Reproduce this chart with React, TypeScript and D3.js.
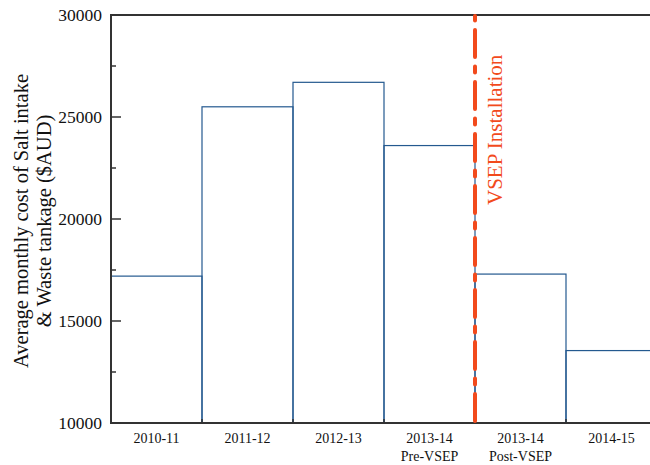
import React from "react";
import * as d3 from "d3";

const categories = ["2010-11", "2011-12", "2012-13", "2013-14\nPre-VSEP", "2013-14\nPost-VSEP", "2014-15"];
const values = [17200, 25500, 26700, 23600, 17300, 13550];
const yTicks = [10000, 15000, 20000, 25000, 30000];
const yMinorTicks = [12500, 17500, 22500, 27500];
const markerLabel = "VSEP Installation";
const yLabelLines = ["Average monthly cost of Salt intake", "& Waste tankage ($AUD)"];

export default function App() {
  const W = 650, H = 465;
  const left = 111, right = 657, top = 15, bottom = 423;
  const x = d3.scaleBand<string>().domain(categories).range([left, right]).padding(0);
  const y = d3.scaleLinear().domain([10000, 30000]).range([bottom, top]);
  const font = "'Liberation Serif', 'Times New Roman', serif";
  const blue = "#24598f";
  const red = "#f24a1c";
  const axisColor = "#333";
  const markerX = x(categories[4])!;

  return (
    <svg width={W} height={H} style={{ position: "absolute", left: 0, top: 0 }} fontFamily={font}>
      <rect x={0} y={0} width={W} height={H} fill="#fff" />
      {values.map((v, i) => (
        <rect
          key={i}
          x={x(categories[i])!}
          y={y(v)}
          width={x.bandwidth()}
          height={bottom - y(v)}
          fill="none"
          stroke={blue}
          strokeWidth={1.2}
        />
      ))}
      {/* frame */}
      <line x1={left} x2={W} y1={top} y2={top} stroke={axisColor} strokeWidth={2} />
      <line x1={left} x2={W} y1={bottom} y2={bottom} stroke={axisColor} strokeWidth={2} />
      <line x1={left} x2={left} y1={top - 1} y2={bottom + 1} stroke={axisColor} strokeWidth={2} />
      {yTicks.map((t) => (
        <g key={t}>
          <line x1={left} x2={left + 10} y1={y(t)} y2={y(t)} stroke={axisColor} strokeWidth={1.5} />
          <text x={102} y={y(t)} dy="0.35em" textAnchor="end" fontSize={17.5} fill="#111">
            {t}
          </text>
        </g>
      ))}
      {yMinorTicks.map((t) => (
        <line key={t} x1={left} x2={left + 5} y1={y(t)} y2={y(t)} stroke={axisColor} strokeWidth={1.5} />
      ))}
      {categories.slice(1).map((c) => (
        <line key={c} x1={x(c)!} x2={x(c)!} y1={bottom} y2={bottom - 4} stroke={axisColor} strokeWidth={1.5} />
      ))}
      {categories.map((c) => {
        const lines = c.split("\n");
        const cx = x(c)! + x.bandwidth() / 2;
        return (
          <text key={c} x={cx} y={443} textAnchor="middle" fontSize={14} fill="#111">
            {lines.map((l, j) => (
              <tspan key={j} x={cx} dy={j === 0 ? 0 : 18}>
                {l}
              </tspan>
            ))}
          </text>
        );
      })}
      {/* marker */}
      <line
        x1={markerX}
        x2={markerX}
        y1={bottom - 2}
        y2={top + 1}
        stroke={red}
        strokeWidth={4}
        strokeDasharray="27,9.5,6,9.5"
        strokeLinecap="round"
      />
      <text
        transform={`translate(${markerX + 27},205) rotate(-90)`}
        fontSize={21}
        fill={red}
        textAnchor="start"
      >
        {markerLabel}
      </text>
      {/* y label */}
      <text transform={`translate(28,221) rotate(-90)`} fontSize={20.5} textAnchor="middle" fill="#111">
        {yLabelLines[0]}
      </text>
      <text transform={`translate(51,221) rotate(-90)`} fontSize={20.5} textAnchor="middle" fill="#111">
        {yLabelLines[1]}
      </text>
    </svg>
  );
}
